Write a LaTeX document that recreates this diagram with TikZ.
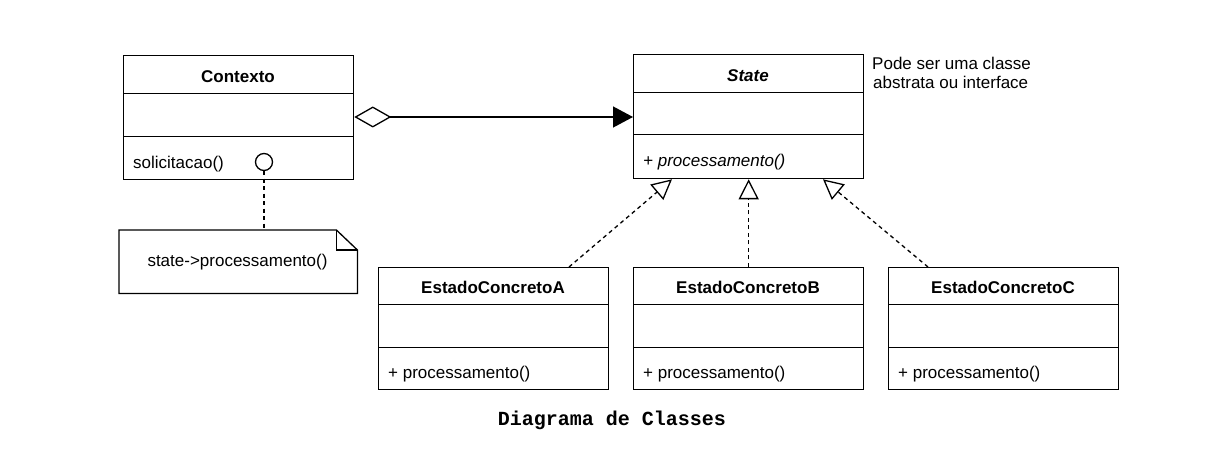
\documentclass[tikz,border=0pt]{standalone}
\usepackage{fontspec}
\setmainfont{Liberation Sans}
\newfontfamily\titlefont{Liberation Mono}
\usetikzlibrary{arrows.meta,calc}
\begin{document}
\begin{tikzpicture}[x=1pt,y=-1pt,
  ln/.style={line width=1.3pt,draw=black},
  comp/.style={ln,rectangle,minimum width=230pt,inner sep=0pt,anchor=north west},
  lbl/.style={inner sep=0pt,font=\fontsize{17}{20}\selectfont},
  lblb/.style={lbl,font=\fontsize{17}{20}\selectfont\bfseries,anchor=base},
  op/.style={lbl,anchor=base west},
  dashline/.style={ln,dash pattern=on 4pt off 3.5pt},
  realize/.style={dashline,-{Triangle[open,length=20pt,width=20pt]}}]
\useasboundingbox (0,0) rectangle (1221,457);
\fill[white] (0,0) rectangle (1221,457);

% Contexto
\node[comp,minimum height=38pt] (ctxH) at (123,55) {};
\node[comp,minimum height=43pt] (ctxA) at (123,93) {};
\node[comp,minimum height=43pt] (ctxO) at (123,136) {};
\node[lblb] (ctxT) at (238,82.5) {Contexto};
\node[op] (ctxOp) at (133,169) {solicitacao()};
\node[ln,circle,minimum size=17pt,inner sep=0pt] (ctxC) at (264,162) {};

% State
\node[comp,minimum height=38pt] (stH) at (633,54) {};
\node[comp,minimum height=42pt] (stA) at (633,92) {};
\node[comp,minimum height=44pt] (stO) at (633,134) {};
\node[lblb,font=\fontsize{17}{20}\selectfont\bfseries\itshape] (stT) at (748,82) {State};
\node[op,font=\fontsize{17}{20}\selectfont\itshape] (stOp) at (643,167) {+ processamento()};
\node[lbl,anchor=base west] (side1) at (872,69.5) {Pode ser uma classe};
\node[lbl,anchor=base west] (side2) at (873,89) {abstrata ou interface};

% Concrete states
\node[comp,minimum height=37pt] (aH) at (378,267) {};
\node[comp,minimum height=43pt] (aA) at (378,304) {};
\node[comp,minimum height=42pt] (aO) at (378,347) {};
\node[lblb] (aT) at (493,294) {EstadoConcretoA};
\node[op] (aOp) at (388,378.5) {+ processamento()};

\node[comp,minimum height=37pt] (bH) at (633,267) {};
\node[comp,minimum height=43pt] (bA) at (633,304) {};
\node[comp,minimum height=42pt] (bO) at (633,347) {};
\node[lblb] (bT) at (748,294) {EstadoConcretoB};
\node[op] (bOp) at (643,378.5) {+ processamento()};

\node[comp,minimum height=37pt] (cH) at (888,267) {};
\node[comp,minimum height=43pt] (cA) at (888,304) {};
\node[comp,minimum height=42pt] (cO) at (888,347) {};
\node[lblb] (cT) at (1003,294) {EstadoConcretoC};
\node[op] (cOp) at (898,378.5) {+ processamento()};

% Note
\node[inner sep=0pt,minimum width=238pt,minimum height=63pt,anchor=north west] (note) at (119,230) {};
\draw[ln,line join=miter] (note.north west) -- ($(note.north east)+(-21,0)$) -- ($(note.north east)+(0,20)$) -- (note.south east) -- (note.south west) -- cycle;
\draw[ln] ($(note.north east)+(-21,0)$) -- ($(note.north east)+(-21,20)$) -- ($(note.north east)+(0,20)$);
\node[lbl,anchor=base] (noteT) at (237.5,266) {state->processamento()};
\draw[dashline] (ctxC.south) -- (ctxC.south |- note.north);

% Aggregation
\coordinate (aggL) at (ctxA.east |- 0,117);
\coordinate (aggR) at (stA.west |- 0,117);
\draw[ln,{Diamond[open,length=37pt,width=21pt]}-{Triangle[length=20pt,width=21pt]}] (aggL) -- (aggR);

% Realizations
\coordinate (aTop) at ($(aH.north west)+(191,0)$);
\coordinate (bTop) at (bH.north);
\coordinate (cTop) at ($(cH.north west)+(40,0)$);
\coordinate (sA) at ($(stO.south west)+(39,0)$);
\coordinate (sB) at (stO.south);
\coordinate (sC) at ($(stO.south west)+(190,0)$);
\draw[realize] (aTop) -- (sA);
\draw[realize] (bTop) -- (sB);
\draw[realize] (cTop) -- (sC);

% Title
\node[inner sep=0pt,anchor=base,font=\titlefont\bfseries\fontsize{20}{24}\selectfont] (title) at (612,425) {Diagrama de Classes};
\end{tikzpicture}
\end{document}
